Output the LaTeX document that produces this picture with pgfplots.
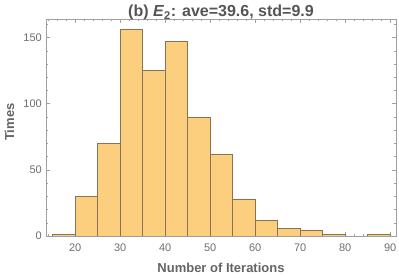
\documentclass[border=0pt]{standalone}
\usepackage{pgfplots}
\pgfplotsset{compat=1.18}
\usepackage{fontspec}
\setmainfont{Liberation Sans}
\definecolor{barfill}{RGB}{252,207,127}
\definecolor{baredge}{RGB}{135,115,85}
\definecolor{framec}{RGB}{160,160,160}
\definecolor{tickc}{RGB}{110,110,110}
\definecolor{labc}{RGB}{100,100,100}
\definecolor{titc}{RGB}{85,85,85}
\begin{document}
\begin{tikzpicture}
\useasboundingbox (-46pt,-42pt) rectangle (353pt,236pt);
\begin{axis}[
  scale only axis,
  width=350pt, height=217pt,
  xmin=13.5, xmax=91.3,
  ymin=0, ymax=164,
  xtick={20,30,...,90},
  ytick={0,50,100,150},
  minor xtick={14,16,...,90},
  minor ytick={10,20,...,160},
  tick align=inside,
  major tick length=4pt,
  minor tick length=2pt,
  axis line style={framec},
  every tick/.style={framec},
  tick label style={font=\fontsize{11}{13}\selectfont, text=tickc},
  /pgf/number format/assume math mode=true,
  xticklabel style={anchor=base, yshift=-16pt},
  yticklabel style={anchor=east, xshift=-1pt, inner sep=3pt},
  xlabel={\textbf{Number of Iterations}},
  ylabel={\textbf{Times}},
  label style={font=\fontsize{13}{15}\selectfont, text=labc},
  xlabel style={at={(axis description cs:0.5,0)}, anchor=base, yshift=-36.5pt},
  ylabel style={at={(axis description cs:-0.0914,0.525)}, anchor=base, rotate=0},
  title={\textbf{(b) \textit{E}\textsubscript{2}: ave=39.6, std=9.9}},
  title style={font=\fontsize{16}{18}\selectfont, text=titc, at={(axis description cs:0.5,1)}, anchor=base, yshift=-3.5pt},
]
\addplot[ybar interval, fill=barfill, draw=baredge, line width=0.6pt]
coordinates {
(15,1) (20,30) (25,70) (30,156) (35,125) (40,147) (45,90) (50,62)
(55,28) (60,12) (65,6) (70,4) (75,1) (80,0) (85,1) (90,1)
};
\end{axis}
\end{tikzpicture}
\end{document}
